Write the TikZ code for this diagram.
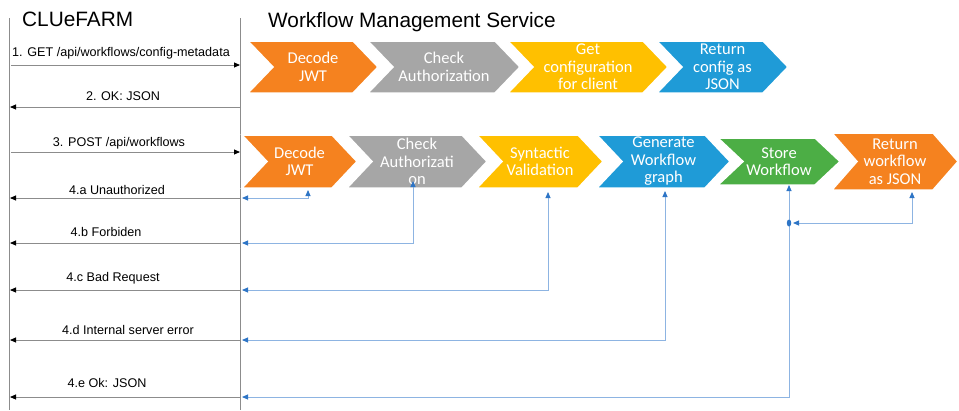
\documentclass[tikz,border=0pt]{standalone}
\usepackage{fontspec}
\setmainfont{Liberation Sans}
\newfontfamily\chevfont{Carlito}
\usetikzlibrary{arrows.meta}

\definecolor{cOrange}{HTML}{F5821F}
\definecolor{cGray}{HTML}{A6A6A6}
\definecolor{cYellow}{HTML}{FFC000}
\definecolor{cBlue}{HTML}{1F9BD7}
\definecolor{cGreen}{HTML}{4CAE45}
\definecolor{lifeGray}{HTML}{8C8C8C}
\definecolor{linkBlue}{HTML}{8DB4E2}
\definecolor{tipBlue}{HTML}{2E75C6}

% chevron: name, left x, tip x, top y, bottom y, colour, text
\newcommand\chevron[7]{%
  \fill[#6, draw=white, line width=1.5pt]
    (#2,#4) -- ({#3-25},#4) -- (#3,{(#4+#5)/2}) -- ({#3-25},#5)
    -- (#2,#5) -- ({#2+25},{(#4+#5)/2}) -- cycle;
  \node[chevtext] (#1) at ({(#2+#3)/2},{(#4+#5)/2}) {#7};
}

\begin{document}
\begin{tikzpicture}[x=1pt,y=-1pt,
  chevtext/.style={align=center, text=white, inner sep=0pt,
    font=\chevfont\fontsize{16.5}{17.5}\selectfont},
  title/.style={anchor=west, inner sep=0pt, font=\fontsize{20.8}{24}\selectfont},
  msg/.style={inner sep=0pt, font=\fontsize{12.6}{15}\selectfont},
  lifeline/.style={draw=lifeGray, line width=0.9pt},
  call/.style={draw=lifeGray, line width=0.9pt,
    -{Triangle[length=6pt,width=5pt,fill=black,color=black]}},
  bconn/.style={draw=linkBlue, line width=0.9pt,
    {Triangle[length=6pt,width=5pt,fill=tipBlue,color=tipBlue]}-{Triangle[length=6pt,width=5pt,fill=tipBlue,color=tipBlue]}}
]
\useasboundingbox (0,0) rectangle (959,410);
\fill[white] (0,0) rectangle (959,410);

% lifelines
\coordinate (cTop) at (9,18);
\coordinate (cBot) at (9,410);
\coordinate (wTop) at (240,18);
\coordinate (wBot) at (240,410);
\draw[lifeline] (cTop) -- (cBot);
\draw[lifeline] (wTop) -- (wBot);

\node[title] (tc) at (22,19) {CLUeFARM};
\node[title] (tw) at (268,22) {Workflow Management Service};

% first request pipeline
\chevron{a1}{248}{378}{41}{93}{cOrange}{Decode\\JWT}
\chevron{a2}{368}{520}{41}{93}{cGray}{Check\\Authorization}
\chevron{a3}{508}{668}{41}{93}{cYellow}{Get\\configuration\\for client}
\chevron{a4}{657}{788}{41}{93}{cBlue}{Return\\config as\\JSON}

% second request pipeline
\chevron{b1}{242}{357}{135}{188}{cOrange}{Decode\\JWT}
\chevron{b2}{347}{487}{135}{188}{cGray}{Check\\Authorizati\\on}
\chevron{b3}{477}{603}{135}{188}{cYellow}{Syntactic\\Validation}
\chevron{b4}{597}{730}{135}{188}{cBlue}{Generate\\Workflow\\graph}
\chevron{b5}{718}{840}{138}{185}{cGreen}{Store\\Workflow}
\chevron{b6}{832}{958}{133}{190}{cOrange}{Return\\workflow\\as JSON}

% messages between the services
\coordinate (l1) at (11,65);   \coordinate (r1) at (240,65);
\coordinate (l2) at (10,107);  \coordinate (r2) at (240,107);
\coordinate (l3) at (11,152);  \coordinate (r3) at (240,152);
\coordinate (l4a) at (10,198); \coordinate (r4a) at (240,198);
\coordinate (l4b) at (10,243); \coordinate (r4b) at (240,243);
\coordinate (l4c) at (10,290); \coordinate (r4c) at (240,290);
\coordinate (l4d) at (10,340); \coordinate (r4d) at (240,340);
\coordinate (l4e) at (10,397); \coordinate (r4e) at (240,397);

\draw[call] (l1) -- (r1);
\draw[call] (r2) -- (l2);
\draw[call] (l3) -- (r3);
\draw[call] (r4a) -- (l4a);
\draw[call] (r4b) -- (l4b);
\draw[call] (r4c) -- (l4c);
\draw[call] (r4d) -- (l4d);
\draw[call] (r4e) -- (l4e);

\node[msg] (m1) at (121,53) {1. GET /api/workflows/config-metadata};
\node[msg] (m2) at (123,96) {2. OK: JSON};
\node[msg] (m3) at (119,143) {3. POST /api/workflows};
\node[msg] (m4a) at (117,190) {4.a Unauthorized};
\node[msg] (m4b) at (106,232) {4.b Forbiden};
\node[msg] (m4c) at (113,278) {4.c Bad Request};
\node[msg] (m4d) at (128,330) {4.d Internal server error};
\node[msg] (m4e) at (107,383) {4.e Ok: JSON};

% responses leaving the pipeline steps
\coordinate (s4a) at (242,198); \coordinate (e4a) at (308,190);
\coordinate (s4b) at (242,243); \coordinate (e4b) at (413,181);
\coordinate (s4c) at (242,290); \coordinate (e4c) at (548,192);
\coordinate (s4d) at (242,340); \coordinate (e4d) at (665,191);
\coordinate (s4e) at (242,397); \coordinate (e4e) at (789,185);
\coordinate (sj) at (793,223);  \coordinate (ej) at (912,192);

\draw[bconn] (s4a) -| (e4a);
\draw[bconn] (s4b) -| (e4b);
\draw[bconn] (s4c) -| (e4c);
\draw[bconn] (s4d) -| (e4d);
\draw[bconn] (s4e) -| (e4e);
\draw[bconn] (sj) -| (ej);
\fill[tipBlue] (789,223) ellipse [x radius=2.2pt, y radius=3.5pt];
\end{tikzpicture}
\end{document}
